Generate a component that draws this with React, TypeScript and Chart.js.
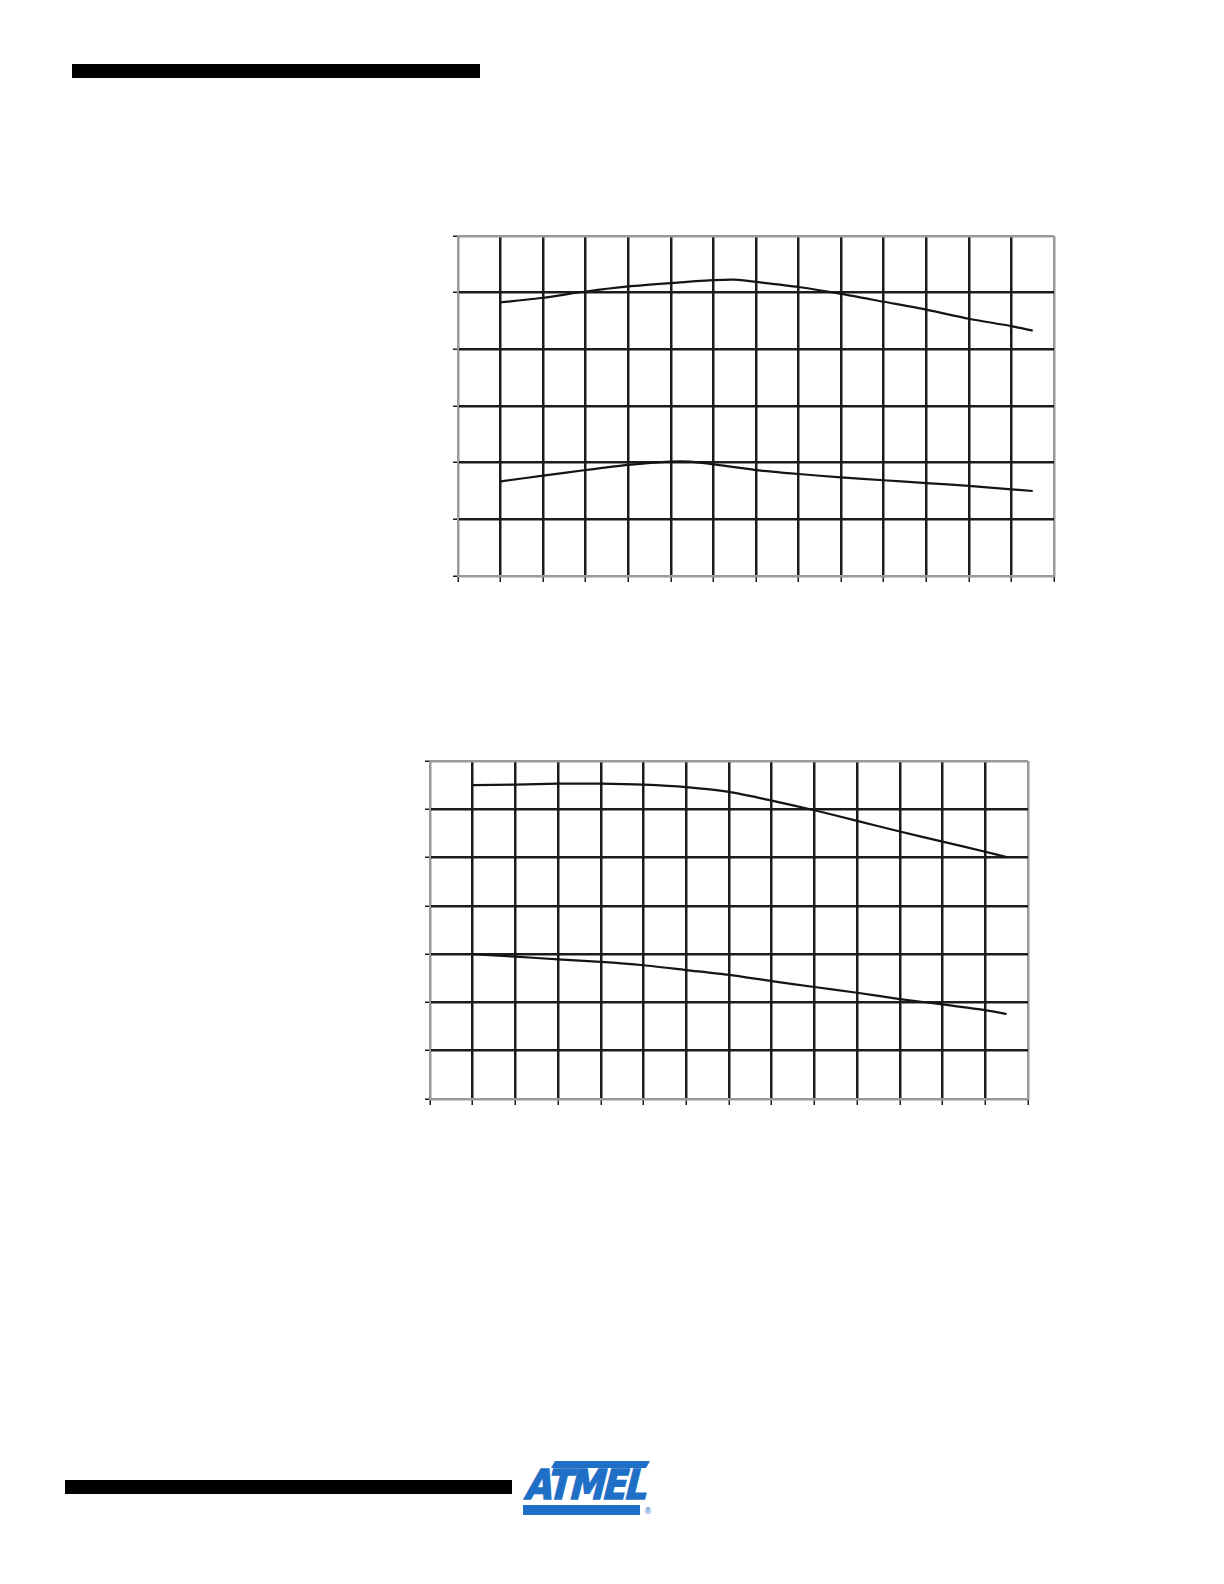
import React, { useEffect, useRef } from "react";
import { Chart, registerables } from "chart.js";

Chart.register(...registerables);

// Chart 1 (top): x positions in grid columns, two curves
const xTop = [1, 2, 3, 4, 5, 6, 6.5, 7, 8, 9, 10, 11, 12, 13, 13.5];
const topUpper = [4.83, 4.91, 5.02, 5.11, 5.17, 5.22, 5.23, 5.19, 5.1, 4.98, 4.84, 4.7, 4.54, 4.41, 4.33];
const xTopLow = [1, 2, 3, 4, 5, 5.45, 6, 7, 8, 9, 10, 11, 12, 13, 13.5];
const topLower = [1.67, 1.77, 1.87, 1.96, 2.02, 2.02, 1.97, 1.87, 1.8, 1.74, 1.69, 1.64, 1.59, 1.53, 1.5];

// Chart 2 (bottom)
const xBottom = [1, 2, 3, 4, 5, 6, 7, 8, 9, 10, 11, 12, 13, 13.5];
const bottomUpper = [6.5, 6.51, 6.53, 6.53, 6.51, 6.46, 6.36, 6.18, 5.98, 5.76, 5.54, 5.33, 5.12, 5.01];
const bottomLower = [3.0, 2.95, 2.89, 2.84, 2.77, 2.67, 2.57, 2.44, 2.32, 2.2, 2.07, 1.96, 1.84, 1.76];

const xMax = 14;
const yMaxTop = 6;
const yMaxBottom = 7;

const EDGE = "#9a9a9a";
const GRID = "#1c1c1c";

function pts(xs: number[], ys: number[]) {
  return xs.map((x, i) => ({ x, y: ys[i] }));
}

function makeConfig(series: { x: number; y: number }[][], yMax: number, pad: any) {
  const gridColor = (max: number) => (ctx: any) => {
    const v = ctx.tick ? ctx.tick.value : 0;
    return v === 0 || v === max ? EDGE : GRID;
  };
  return {
    type: "line" as const,
    data: {
      datasets: series.map((d) => ({
        data: d,
        borderColor: "#151515",
        borderWidth: 2.2,
        pointRadius: 0,
        fill: false,
        tension: 0.25,
      })),
    },
    options: {
      animation: false as const,
      responsive: false,
      maintainAspectRatio: false,
      layout: { padding: pad },
      plugins: { legend: { display: false }, tooltip: { enabled: false } },
      scales: {
        x: {
          type: "linear" as const,
          min: 0,
          max: xMax,
          ticks: { display: false, stepSize: 1 },
          grid: { color: gridColor(xMax), lineWidth: 2.5, tickLength: 6, tickColor: GRID, tickWidth: 1.5 },
          border: { color: EDGE, width: 2 },
        },
        y: {
          min: 0,
          max: yMax,
          ticks: { display: false, stepSize: 1 },
          grid: { color: gridColor(yMax), lineWidth: 2.5, tickLength: 5, tickColor: GRID, tickWidth: 1.5 },
          border: { color: EDGE, width: 2 },
        },
      },
    },
  };
}

function ChartBox(props: { left: number; top: number; width: number; height: number; series: any[]; yMax: number; pad: any }) {
  const ref = useRef<HTMLCanvasElement | null>(null);
  useEffect(() => {
    if (!ref.current) return;
    const chart = new Chart(ref.current, makeConfig(props.series, props.yMax, props.pad) as any);
    return () => chart.destroy();
  }, []);
  return (
    <canvas
      ref={ref}
      width={props.width}
      height={props.height}
      style={{ position: "absolute", left: props.left, top: props.top, width: props.width, height: props.height }}
    />
  );
}

const BLUE = "#1f6fc6";

export default function App() {
  return (
    <div style={{ position: "absolute", left: 0, top: 0, width: 1224, height: 1584, background: "#fff", overflow: "hidden" }}>
      <div style={{ position: "absolute", left: 72, top: 64, width: 408, height: 14, background: "#000" }} />

      <ChartBox
        left={448}
        top={225}
        width={616}
        height={362}
        series={[pts(xTop, topUpper), pts(xTopLow, topLower)]}
        yMax={yMaxTop}
        pad={{ left: 5, right: 10, top: 11, bottom: 5 }}
      />
      <ChartBox
        left={420}
        top={751}
        width={618}
        height={359}
        series={[pts(xBottom, bottomUpper), pts(xBottom, bottomLower)]}
        yMax={yMaxBottom}
        pad={{ left: 5, right: 10, top: 10, bottom: 5 }}
      />

      <div style={{ position: "absolute", left: 65, top: 1480, width: 447, height: 14, background: "#000" }} />

      <div style={{ position: "absolute", left: 553, top: 1461, width: 95, height: 7, background: BLUE, transform: "skewX(-30deg)" }} />
      <div
        style={{
          position: "absolute",
          left: 532,
          top: 1466,
          width: 118,
          height: 38,
          color: BLUE,
          fontFamily: "'DejaVu Sans Condensed', 'DejaVu Sans', sans-serif",
          fontWeight: 900,
          fontSize: 41,
          lineHeight: "38px",
          letterSpacing: -2,
          WebkitTextStroke: "1.5px " + BLUE,
          transform: "skewX(-14deg) scaleX(0.95)",
          transformOrigin: "left top",
          whiteSpace: "nowrap",
        }}
      >
        ATMEL
      </div>
      <div style={{ position: "absolute", left: 523, top: 1505, width: 117, height: 10, background: BLUE }} />
      <div style={{ position: "absolute", left: 644, top: 1507, color: BLUE, fontFamily: "'DejaVu Sans', sans-serif", fontSize: 8 }}>®</div>
    </div>
  );
}
